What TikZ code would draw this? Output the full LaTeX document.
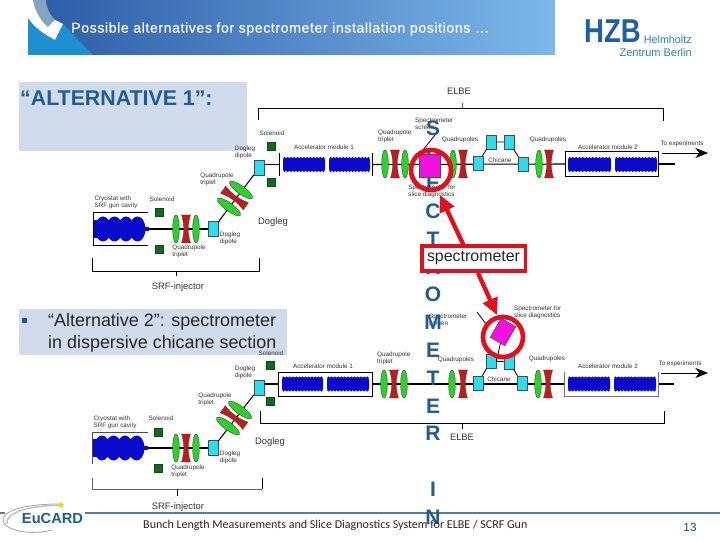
\documentclass[tikz,border=0pt]{standalone}
\usepackage{fontspec}
\setmainfont{Liberation Sans}
\newfontfamily\carlito{Carlito}
\usetikzlibrary{shapes.geometric,arrows.meta,calc}
\definecolor{headblue}{HTML}{1F5C8F}
\definecolor{barleft}{HTML}{2A5BA6}
\definecolor{barright}{HTML}{7DB8EA}
\definecolor{barcyan}{HTML}{1E8FD0}
\definecolor{hzbblue}{HTML}{1F5FA8}
\definecolor{hzbcyan}{HTML}{2A7FB8}
\definecolor{panel}{HTML}{D0DCEC}
\definecolor{cavblue}{HTML}{0A0ACC}
\definecolor{cyanmag}{HTML}{2FDCEC}
\definecolor{quadgreen}{HTML}{33CC33}
\definecolor{quadred}{HTML}{B52020}
\definecolor{solgreen}{HTML}{126A1E}
\definecolor{specmag}{HTML}{F010E0}
\definecolor{callred}{HTML}{E0101C}
\definecolor{rulec}{HTML}{4F7CA8}
\newcommand{\cavmodule}[3]{% x1, x2, y centre
  \fill[cavblue,rounded corners=0.06cm] (#1,#3-6.5) rectangle (#2,#3+6.5);
  \foreach \t in {0,0.0833,...,1.01}{
    \fill[cavblue] ({#1+1.5+(#2-#1-3)*\t},#3-6.3) circle[radius=1.3];
    \fill[cavblue] ({#1+1.5+(#2-#1-3)*\t},#3+6.3) circle[radius=1.3];}
}
\newcommand{\gunfour}[2]{% x left, y centre
  \fill[cavblue] (#1,#2-9) rectangle (#1+6,#2+9);
  \foreach \k in {0,1,2,3}{\fill[cavblue] (#1+9+\k*11.5,#2) ellipse[x radius=8,y radius=12.5];}
  \fill[cavblue] (#1+48,#2-2) rectangle (#1+55,#2+2);
}
\tikzset{
  x=0.03cm,y=-0.03cm,
  dipole/.style={rectangle,draw=black!70,fill=cyanmag,line width=0.3pt,inner sep=0pt,minimum width=0.3cm,minimum height=0.46cm},
  chicdip/.style={dipole,minimum height=0.42cm},
  solsq/.style={rectangle,draw=solgreen!70!black,fill=solgreen,inner sep=0pt,minimum size=0.24cm},
  gquad/.style={ellipse,draw=green!35!black,line width=0.3pt,fill=quadgreen,inner sep=0pt,minimum width=0.2cm,minimum height=0.85cm},
  gquadr/.style={gquad,minimum width=0.24cm,minimum height=0.85cm},
  beam/.style={draw=black,line width=0.9pt},
  thinline/.style={draw=black,line width=0.45pt},
  modbox/.style={rectangle,inner sep=0pt},
  tiny/.style={font=\fontsize{5.4}{6}\selectfont,align=left,text=black!80,inner sep=0pt},
  midlab/.style={font=\fontsize{8}{9}\selectfont,text=black!80,inner sep=0pt},
  redquad/.pic={\fill[quadred,draw=quadred!70!black,line width=0.2pt]
     (-4.5,-14) -- (4.5,-14) .. controls (1.6,-5) and (1.6,5) .. (4.5,14)
     -- (-4.5,14) .. controls (-1.6,5) and (-1.6,-5) .. (-4.5,-14) -- cycle;},
  callout/.style={draw=callred,line width=0.14cm},
  callarrow/.style={draw=callred,line width=0.13cm,-{Triangle[length=0.5cm,width=0.46cm]}},
  exitarrow/.style={draw=black,line width=0.4pt,-{Stealth[length=0.38cm,width=0.3cm]}},
}
\begin{document}
\begin{tikzpicture}
\useasboundingbox (0,0) rectangle (720,540);
\fill[white] (0,0) rectangle (720,540);
% ---------- header
\shade[left color=barleft,right color=barright,shading angle=90] (28,0) rectangle (555,55);
\fill[barcyan] (28,17) -- (55,40) -- (63,24) -- (93,55) -- (28,55) -- cycle;
\fill[white] (28,0) -- (33,0) .. controls (36,10) and (44,16) .. (55,20) -- (63,24) -- (55,40) .. controls (44,34) and (35,28) .. (28,18) -- cycle;
\fill[headblue!55!white] (33,0) -- (46,0) .. controls (46,8) and (50,15) .. (55,20) -- (48,27) .. controls (42,22) and (35,12) .. (33,0) -- cycle;
\node[inner sep=0pt,anchor=west,text=white,font=\fontsize{12.1}{13}\selectfont\addfontfeatures{LetterSpace=4,FakeBold=0.25}] (title) at (71,29) {Possible alternatives for spectrometer installation positions …};
% logo
\node[inner sep=0pt,anchor=west,text=hzbblue,font=\fontsize{23.5}{24}\bfseries\selectfont] (hzb) at (584,31.5) {\scalebox{1}[1.2]{HZB}};
\node[inner sep=0pt,anchor=east,text=hzbcyan,font=\fontsize{9.2}{10}\selectfont] (hz2) at (692,40) {Helmholtz};
\node[inner sep=0pt,anchor=east,text=hzbcyan,font=\fontsize{9.4}{10}\selectfont] (hz3) at (692,53) {Zentrum Berlin};
% ---------- panels
\node[fill=panel,anchor=north west,minimum width=6.84cm,minimum height=2.07cm,inner sep=0pt] (alt1box) at (19,82) {};
\node[anchor=west,inner sep=0pt,text=headblue,font=\fontsize{18.2}{20}\bfseries\selectfont] (alt1) at (20,98.5) {“ALTERNATIVE 1”:};
\node[fill=panel,anchor=north west,minimum width=8.04cm,minimum height=1.38cm,inner sep=0pt] (alt2box) at (19,309) {};
\fill[headblue!90!blue] (22,318) rectangle (27,323);
\node[anchor=north west,inner sep=0pt,text=black!85,align=left,font=\fontsize{15.3}{18.8}\selectfont] (alt2) at (48,313) {“Alternative 2”: spectrometer\\in dispersive chicane section};
% ---------- upper diagram
\node[modbox,minimum width=1.65cm,minimum height=0.97cm] (cr1) at (120.5,229) {};
\draw[thinline] (cr1.north east) -- (cr1.north west) -- (cr1.south west) -- (cr1.south east);
\gunfour{94}{229}
\node[dipole] (d1a) at (213,229) {};
\node[dipole] (d1b) at (259,168) {};
\node[modbox,minimum width=2.79cm,minimum height=0.69cm] (m1a) at (325.5,164.5) {};
\node[modbox,minimum width=2.79cm,minimum height=0.72cm] (m1b) at (611.5,164) {};
\coordinate (endA) at (675,164);
\draw[beam] (cr1.east) -- (d1a);
\draw[beam] (d1a) -- (d1b);
\draw[beam] (d1b.east |- m1a) -- (m1a.west);
\draw[beam] (m1a.east) -- (m1b.west);
\draw[beam] (m1b.east) -- (endA);
\draw[thinline] (m1a.north west) -- (m1a.south west);
\draw[thinline] (m1a.north east) -- (m1a.south east);
\draw[thinline] (m1b.north west) rectangle (m1b.south east);
\cavmodule{283}{325}{164.5}
\cavmodule{329}{370}{164.5}
\cavmodule{568}{611}{164.5}
\cavmodule{615}{657}{164.5}
\node[solsq] at (159,212) {};
\node[solsq] at (159,249) {};
\node[solsq] at (271,146) {};
\node[solsq] at (271,182) {};
\node[gquad] at (176,229) {};
\pic at (186,229) {redquad};
\node[gquad] at (196,229) {};
\node[gquadr,rotate=54] at (241,190) {};
\pic[rotate=54] at (234.5,198) {redquad};
\node[gquadr,rotate=54] at (229,207) {};
\node[gquad] at (385,164) {};
\pic at (395,164) {redquad};
\node[gquad] at (405,164) {};
\node[gquad] at (453,164) {};
\pic at (463,164) {redquad};
\node[chicdip] (c1a) at (478,163) {};
\node[chicdip] (c2a) at (491,142) {};
\node[chicdip] (c3a) at (509,142) {};
\node[chicdip] (c4a) at (523,164) {};
\draw[thinline,line width=0.7pt] (c1a) -- (c2a) (c2a) -- (c3a) (c3a) -- (c4a);
\node[gquad] at (539,164) {};
\pic at (549,164) {redquad};
\coordinate (scrA1) at (423,150); \coordinate (scrA2) at (435,135);
\draw[draw=violet!70!black,line width=0.8pt] (scrA1) -- (scrA2);
\draw[thinline] (92,258) -- (92,271) -- (259,271) -- (259,258);
\draw[thinline] (176,271) -- (176,276);
\draw[thinline] (258,120) -- (258,108) -- (663,108) -- (663,121);
\draw[thinline,black!60] (462,103) -- (462,108);
\coordinate (arrAs) at (662,153); \coordinate (arrAe) at (708,153);
\draw[exitarrow] (arrAs) -- (arrAe);
\node[midlab] at (178,287) {SRF-injector};
\node[midlab] at (459,91) {ELBE};
\node[midlab] at (273,222) {Dogleg};
\node[tiny,align=center] at (272,133) {Solenoid};
\node[tiny] at (324,147) {Accelerator module 1};
\node[tiny] at (245,152) {Dogleg\\dipole};
\node[tiny] at (217,179) {Quadrupole\\triplet};
\node[tiny] at (116,202) {Cryostat with\\SRF gun cavity};
\node[tiny] at (162,199) {Solenoid};
\node[tiny] at (189,251) {Quadrupole\\triplet};
\node[tiny] at (230,238) {Dogleg\\dipole};
\node[tiny,anchor=west] at (378,136) {Quadrupole\\triplet};
\node[tiny,anchor=west] at (415,124) {Spectrometer\\screen};
\node[tiny] at (460,140) {Quadrupoles};
\node[tiny] at (548,140) {Quadrupoles};
\node[tiny] at (500,160) {Chicane};
\node[tiny] at (608,147) {Accelerator module 2};
\node[tiny] at (682,144) {To experiments};
% ---------- lower diagram
\node[modbox,minimum width=1.68cm,minimum height=0.96cm] (cr2) at (120,448) {};
\draw[thinline,black!70] (cr2.north east) -- (cr2.north west) -- (cr2.south west);
\gunfour{93}{448}
\node[dipole] (d1c) at (213,448) {};
\node[dipole] (d1d) at (259,388) {};
\node[modbox,minimum width=2.82cm,minimum height=0.72cm] (m2a) at (325,384) {};
\node[modbox,minimum width=2.82cm,minimum height=0.72cm] (m2b) at (611,384) {};
\coordinate (endB) at (674,384);
\draw[beam] (cr2.east) -- (d1c);
\draw[beam] (d1c) -- (d1d);
\draw[beam] (d1d.east |- m2a) -- (m2a.west);
\draw[beam] (m2a.east) -- (m2b.west);
\draw[beam] (m2b.east) -- (endB);
\draw[thinline] (m2a.north west) rectangle (m2a.south east);
\draw[thinline,black!55] (m2b.north west) -- (m2b.south west) -- (m2b.south east) -- (m2b.north east);
\cavmodule{282}{323}{384}
\cavmodule{327}{369}{384}
\cavmodule{568}{610}{384}
\cavmodule{614}{656}{384}
\node[solsq] at (158,432) {};
\node[solsq] at (158,468) {};
\node[solsq] at (270,365) {};
\node[solsq] at (270,401) {};
\node[gquad] at (176,448) {};
\pic at (186,448) {redquad};
\node[gquad] at (196,448) {};
\node[gquadr,rotate=54] at (240,410) {};
\pic[rotate=54] at (234,417.5) {redquad};
\node[gquadr,rotate=54] at (228,426) {};
\node[gquad] at (384,384) {};
\pic at (394,384) {redquad};
\node[gquad] at (404,384) {};
\node[gquad] at (452,384) {};
\pic at (463,384) {redquad};
\node[chicdip] (c1b) at (478,383) {};
\node[chicdip] (c2b) at (491,361) {};
\node[chicdip] (c3b) at (509,362) {};
\node[chicdip] (c4b) at (522,383) {};
\draw[thinline,line width=0.7pt] (c1b) -- (c2b) (c2b) -- (c3b) (c3b) -- (c4b);
\node[gquad] at (538,384) {};
\pic at (548,384) {redquad};
\coordinate (scrB1) at (477,312); \coordinate (scrB2) at (486,324);
\draw[draw=violet!70!black,line width=0.8pt] (scrB1) -- (scrB2);
\draw[thinline,black!60] (92,478) -- (92,489) -- (262,489);
\draw[thinline] (262,489) -- (262,478);
\draw[thinline] (177,489) -- (177,496);
\draw[thinline] (260,411) -- (260,423) -- (664,423) -- (664,411);
\draw[thinline] (462,423) -- (462,429);
\coordinate (arrBs) at (661,373); \coordinate (arrBe) at (708,373);
\draw[exitarrow] (arrBs) -- (arrBe);
\node[midlab] at (178,507) {SRF-injector};
\node[midlab] at (462,437) {ELBE};
\node[midlab] at (270,442) {Dogleg};
\node[tiny] at (271,353) {Solenoid};
\node[tiny] at (323,366) {Accelerator module 1};
\node[tiny] at (245,372) {Dogleg\\dipole};
\node[tiny] at (215,399) {Quadrupole\\triplet};
\node[tiny] at (115,422) {Cryostat with\\SRF gun cavity};
\node[tiny] at (161,418) {Solenoid};
\node[tiny] at (188,471) {Quadrupole\\triplet};
\node[tiny] at (230,457) {Dogleg\\dipole};
\node[tiny,anchor=west] at (377,358) {Quadrupole\\triplet};
\node[tiny,anchor=west] at (429,320) {Spectrometer\\screen};
\node[tiny,anchor=west] at (514,312) {Spectrometer for\\slice diagnostics};
\node[tiny] at (456,360) {Quadrupoles};
\node[tiny] at (547,359) {Quadrupoles};
\node[tiny] at (499,379) {Chicane};
\node[tiny] at (608,366) {Accelerator module 2};
\node[tiny] at (680,364) {To experiments};
% ---------- footer (under the letter column)
\draw[draw=rulec,line width=0.07cm] (85,513) -- (720,513);
\draw[draw=rulec,line width=0.07cm] (0,513) -- (5,513);
% ---------- column of letters
\node[anchor=north,inner sep=0pt,align=center,text=headblue,font=\fontsize{17.9}{23.7}\bfseries\selectfont] (col) at (433,120.5)
  {S\\P\\E\\C\\T\\R\\O\\M\\E\\T\\E\\R\\\mbox{}\\I\\N};
% ---------- spectrometer magnets and callouts
\node[rectangle,draw=black!70,fill=specmag,inner sep=0pt,minimum width=0.63cm,minimum height=0.69cm] (specA) at (429.5,165.5) {};
\node[rectangle,draw=black!70,fill=specmag,inner sep=0pt,minimum width=0.51cm,minimum height=0.66cm,rotate=-30] (specB) at (503,332) {};
\draw[thinline,line width=0.7pt] (specB) -- ($(c2b)!0.3!(c3b)$);
\node[tiny] at (432,191) {Spectrometer for\\slice diagnostics};
\node[circle,callout,minimum size=1.2cm,inner sep=0pt] (ringA) at (431,170) {};
\node[circle,callout,minimum size=1.2cm,inner sep=0pt] (ringB) at (503,337) {};
\node[rectangle,draw=callred,line width=0.1cm,fill=white,inner sep=0pt,minimum width=3.1cm,minimum height=0.75cm,font=\fontsize{13.6}{15}\selectfont,text=black!85] (lab) at (473.5,258.5) {spectrometer};
\coordinate (tipA) at (440,195);
\coordinate (tipB) at (497,315);
\draw[callarrow] (lab.north |- 0,245) ++(-10,0) -- (tipA);
\draw[callarrow] (478,273) -- (tipB);
% ---------- footer
\draw[draw=gray!70,line width=0.7pt] (60,504) .. controls (20,504) and (3,512) .. (3,520) .. controls (3,530) and (30,536) .. (52,530);
\draw[draw=gray!50,line width=1.2pt] (7,524) .. controls (5,512) and (30,506) .. (60,505);
\node[star,star points=5,star point ratio=2.2,fill=yellow!70!orange,inner sep=0pt,minimum size=0.22cm] at (61,505) {};
\node[inner sep=0pt,text=headblue,font=\fontsize{12.5}{15}\bfseries\selectfont] (eu) at (52.5,518) {EuCARD};
\node[inner sep=0pt,anchor=west,font=\fontsize{10.27}{12}\carlito\selectfont,text=black!85] (foot) at (143,525) {Bunch Length Measurements and Slice Diagnostics System for ELBE / SCRF Gun};
\node[inner sep=0pt,text=headblue!80!black,font=\fontsize{10}{12}\selectfont] (page) at (690,527) {13};
\end{tikzpicture}
\end{document}
